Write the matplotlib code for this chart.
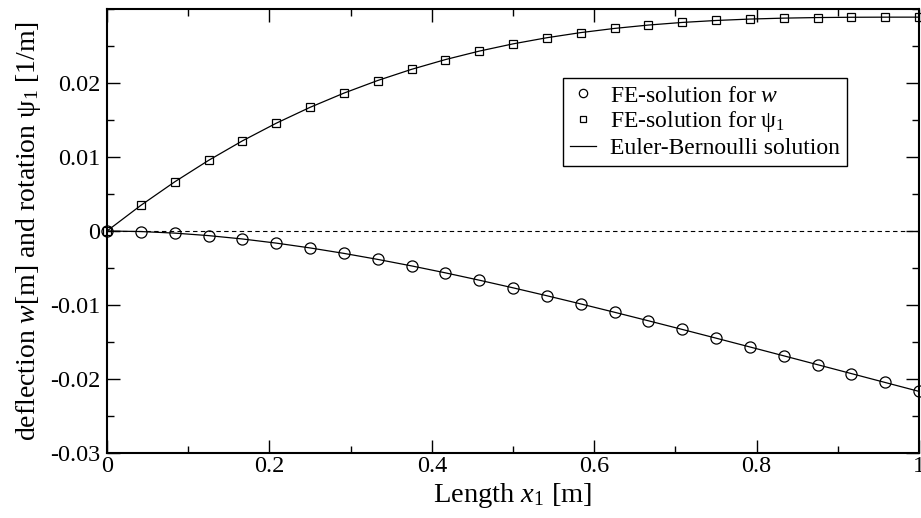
import matplotlib
matplotlib.use("Agg")
import matplotlib.pyplot as plt
from matplotlib.ticker import MultipleLocator, FixedLocator

plt.rcParams['font.family'] = ['Liberation Serif', 'DejaVu Serif']
plt.rcParams['mathtext.fontset'] = 'custom'
plt.rcParams['mathtext.rm'] = 'Liberation Serif'
plt.rcParams['mathtext.it'] = 'Liberation Serif:italic'
plt.rcParams['mathtext.bf'] = 'Liberation Serif:bold'

# Node positions along the beam [m]
x_nodes = [0.0, 0.041667, 0.083333, 0.125, 0.166667, 0.208333, 0.25, 0.291667,
           0.333333, 0.375, 0.416667, 0.458333, 0.5, 0.541667, 0.583333, 0.625,
           0.666667, 0.708333, 0.75, 0.791667, 0.833333, 0.875, 0.916667,
           0.958333, 1.0]

# Deflection w [m]
w_vals = [0.0, -0.000073, -0.000285, -0.000623, -0.001076, -0.001634, -0.002286,
          -0.003023, -0.003836, -0.004715, -0.005653, -0.006643, -0.007677,
          -0.008748, -0.009851, -0.010980, -0.012131, -0.013298, -0.014478,
          -0.015668, -0.016864, -0.018064, -0.019267, -0.020471, -0.021675]

# Rotation psi_1 [1/m]
psi_vals = [0.0, 0.003464, 0.006640, 0.009539, 0.012176, 0.014561, 0.016708,
            0.018629, 0.020337, 0.021844, 0.023163, 0.024307, 0.025288,
            0.026117, 0.026809, 0.027376, 0.027830, 0.028183, 0.028448,
            0.028639, 0.028766, 0.028844, 0.028883, 0.028898, 0.028900]

x_ticks = [0.0, 0.2, 0.4, 0.6, 0.8, 1.0]
x_ticklabels = ["0", "0.2", "0.4", "0.6", "0.8", "1"]
y_ticks = [-0.03, -0.02, -0.01, 0.0, 0.01, 0.02]
y_ticklabels = ["-0.03", "-0.02", "-0.01", "0", "0.01", "0.02"]

W, H = 921, 518
fig = plt.figure(figsize=(W / 100, H / 100), dpi=100)
ax = fig.add_axes([107 / W, 1 - 453 / H, (919 - 107) / W, (453 - 9) / H])

ax.axhline(0.0, color='black', lw=0.8, ls=(0, (4, 3)), zorder=1)

# Euler-Bernoulli solution lines
ax.plot(x_nodes, w_vals, color='black', lw=0.9, zorder=2)
ax.plot(x_nodes, psi_vals, color='black', lw=0.9, zorder=2)

# FE markers
h_w, = ax.plot(x_nodes, w_vals, ls='none', marker='o', ms=8.0, mfc='none',
               mec='black', mew=0.9, clip_on=False, zorder=3)
h_psi, = ax.plot(x_nodes, psi_vals, ls='none', marker='s', ms=6.2, mfc='none',
                 mec='black', mew=0.9, clip_on=False, zorder=3)
h_line, = ax.plot([], [], color='black', lw=0.9)

ax.set_xlim(0, 1)
ax.set_ylim(-0.03, 0.03)
ax.xaxis.set_major_locator(FixedLocator(x_ticks))
ax.set_xticklabels(x_ticklabels)
ax.yaxis.set_major_locator(FixedLocator(y_ticks))
ax.set_yticklabels(y_ticklabels)
ax.xaxis.set_minor_locator(MultipleLocator(0.1))
ax.yaxis.set_minor_locator(MultipleLocator(0.005))

ax.tick_params(which='both', direction='in', top=True, right=True, width=1.0)
ax.tick_params(which='major', length=9.5, labelsize=17.5)
ax.tick_params(which='minor', length=5)
ax.tick_params(axis='x', which='major', pad=2)
ax.tick_params(axis='y', which='major', pad=5)
for s in ax.spines.values():
    s.set_linewidth(1.5)

ax.set_xlabel(r"Length $x_1$ [m]", fontsize=20.5, labelpad=3)
ax.set_ylabel(r"deflection $w$[m] and rotation ψ$_1$ [1/m]", fontsize=20, labelpad=5)

leg = ax.legend([h_w, h_psi, h_line],
                [r"FE-solution for $w$", r"FE-solution for ψ$_1$", "Euler-Bernoulli solution"],
                loc='upper left', bbox_to_anchor=((563 - 107) / 812, (453 - 78) / 444),
                borderaxespad=0, fontsize=17, frameon=True, fancybox=False,
                edgecolor='black', framealpha=1, handlelength=1.1, handletextpad=0.6,
                borderpad=0.3, labelspacing=0.12, markerscale=0.75)
leg.get_frame().set_linewidth(1.0)

fig.savefig("out.png", dpi=100)
